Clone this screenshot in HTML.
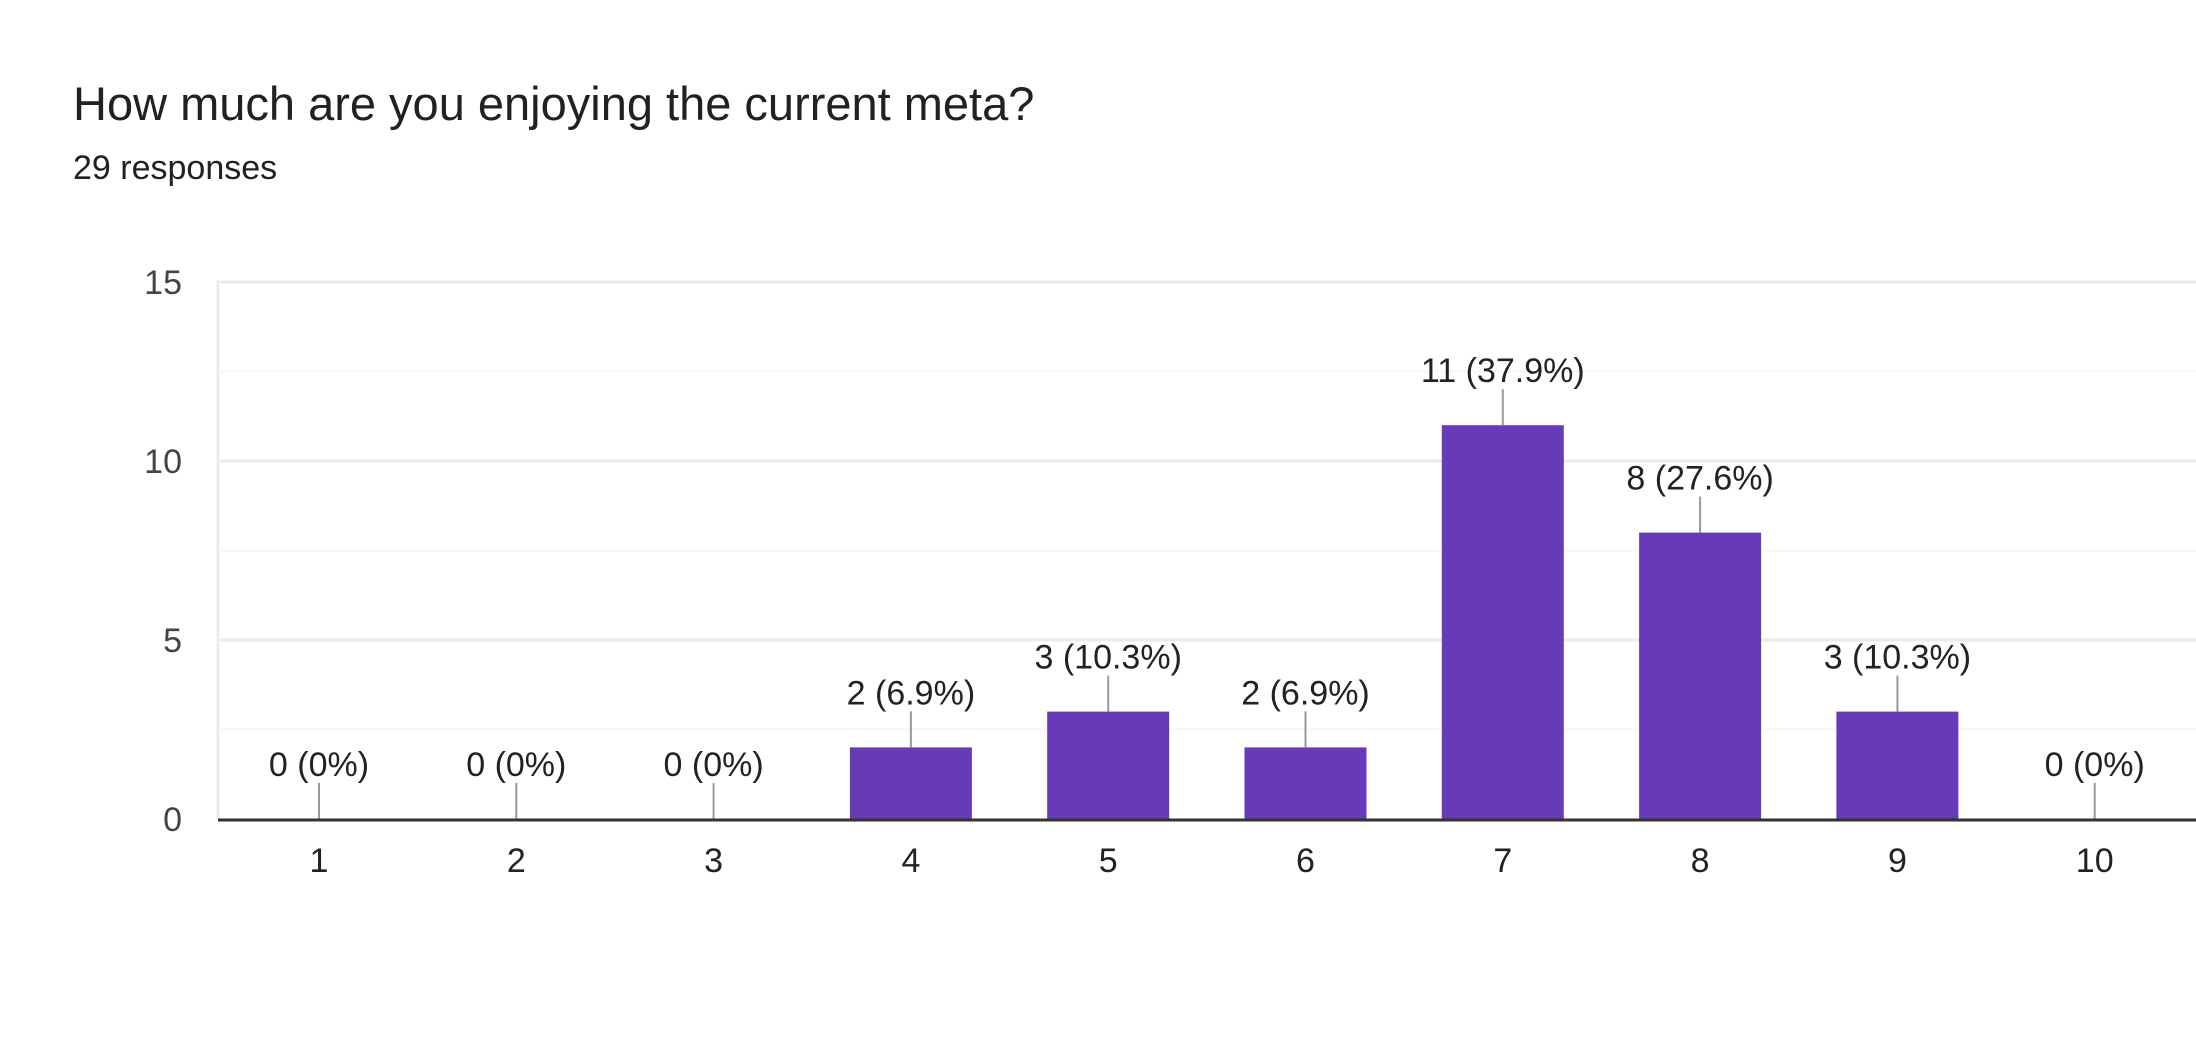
<!DOCTYPE html>
<html><head><meta charset="utf-8"><style>
html,body{margin:0;padding:0;background:#fff;width:2196px;height:1044px;overflow:hidden;font-family:"Liberation Sans",Arial,sans-serif;}
</style></head><body>
<svg width="2196" height="1044" xmlns="http://www.w3.org/2000/svg">
<text x="73" y="120" font-size="47" fill="#202124">How much are you enjoying the current meta?</text>
<text x="73" y="179" font-size="34" fill="#202124">29 responses</text>
<g id="grid"></g>
<g id="bars"></g>
<g id="labels"></g>
</svg>
<script>
const categories = ["1","2","3","4","5","6","7","8","9","10"];
const counts = [0,0,0,2,3,2,11,8,3,0];
const valueLabels = ["0 (0%)","0 (0%)","0 (0%)","2 (6.9%)","3 (10.3%)","2 (6.9%)","11 (37.9%)","8 (27.6%)","3 (10.3%)","0 (0%)"];
const yTicks = [0,5,10,15];
const NS="http://www.w3.org/2000/svg";
const plotL=218, plotR=2196, y0=819, yTop=282, yMax=15;
const step=197.3, firstX=319, barW=122;
function y(v){return y0-(v/yMax)*(y0-yTop);}
function x(i){return firstX+i*step;}
function mk(tag,attrs,parent){const e=document.createElementNS(NS,tag);for(const k in attrs)e.setAttribute(k,attrs[k]);parent.appendChild(e);return e;}
const grid=document.getElementById('grid'),bars=document.getElementById('bars'),labels=document.getElementById('labels');
for(let v=0;v<=yMax;v+=2.5){
  if(v===0)continue;
  const major=v%5===0;
  const l=mk('line',{x1:plotL,x2:plotR,y1:y(v),y2:y(v),stroke:major?'#ebebeb':'#f5f5f5','stroke-width':major?3:2},grid);
  
  
}
const va=mk('line',{x1:plotL,x2:plotL,y1:yTop-2,y2:y0,stroke:'#ebebeb','stroke-width':3},grid);


yTicks.forEach(t=>{
  const e=mk('text',{x:182,y:y(t)+12,'font-size':34,fill:'#444','text-anchor':'end'},labels);
  e.textContent=t;
  
  
});
categories.forEach((c,i)=>{
  const cx=x(i),v=counts[i];
  if(v>0){
    const r=mk('rect',{x:cx-barW/2,y:y(v),width:barW,height:y0-y(v),fill:'#673ab7'},bars);
    
    
  }
  const ld=mk('line',{x1:cx,x2:cx,y1:y(v)-36,y2:y(v),stroke:'#999','stroke-width':2},labels);
  
  
  const vl=mk('text',{x:cx,y:y(v)-43,'font-size':34,fill:'#222','text-anchor':'middle'},labels);
  vl.textContent=valueLabels[i];
  
  
  const xl=mk('text',{x:cx,y:872,'font-size':34,fill:'#222','text-anchor':'middle'},labels);
  xl.textContent=c;
  
  
});
const ax=mk('line',{x1:plotL,x2:plotR,y1:y0+1,y2:y0+1,stroke:'#333','stroke-width':3},labels);


</script>
</body></html>
